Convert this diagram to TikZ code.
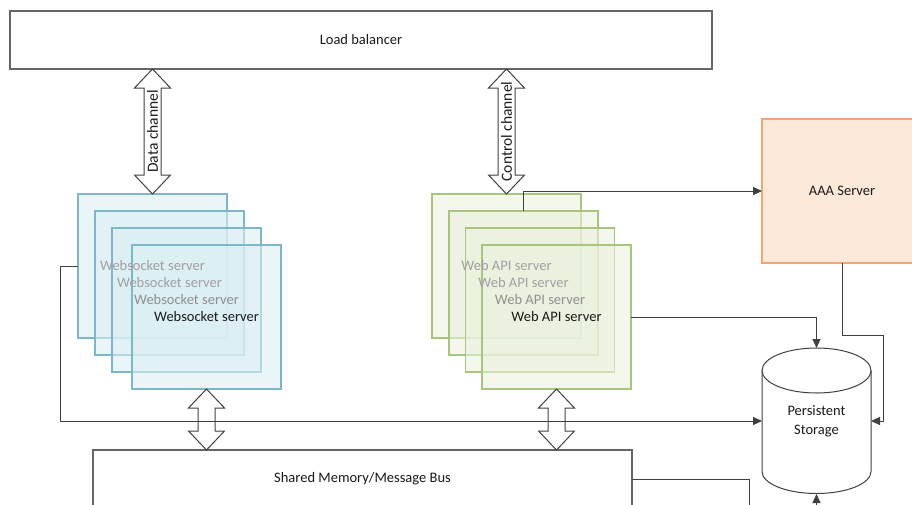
\documentclass[tikz,border=0pt]{standalone}
\usepackage{fontspec}
\setmainfont{Carlito}
\usetikzlibrary{arrows.meta,calc}
\definecolor{wsfill}{HTML}{DBEEF3}
\definecolor{wsline}{HTML}{7DB8CA}
\definecolor{apifill}{HTML}{EAF1DE}
\definecolor{apiline}{HTML}{A9C47E}
\definecolor{aaafill}{HTML}{FDE9D9}
\definecolor{aaaline}{HTML}{F5A66C}
\definecolor{boxline}{HTML}{666666}
\definecolor{connc}{HTML}{404040}
\definecolor{txt}{HTML}{1A1A1A}
\definecolor{fadetxt}{HTML}{A0A0A0}
\newcommand\dblarr[2]{%
  \draw[dbl] let \p1=#1, \p2=#2 in
    (\x1,\y1) -- (\x1+18pt,\y1-19pt) -- (\x1+8.5pt,\y1-19pt) -- (\x1+8.5pt,\y2+19pt)
    -- (\x1+18pt,\y2+19pt) -- (\x1,\y2) -- (\x1-18pt,\y2+19pt) -- (\x1-8.5pt,\y2+19pt)
    -- (\x1-8.5pt,\y1-19pt) -- (\x1-18pt,\y1-19pt) -- cycle;}
\begin{document}
\begin{tikzpicture}[x=1pt,y=-1pt,
  lbl/.style={font=\fontsize{14.5}{19}\selectfont, text=txt, align=center},
  chlbl/.style={font=\fontsize{15.5}{18}\selectfont, text=txt, rotate=90},
  plainbox/.style={draw=boxline, line width=1.6pt, fill=white, inner sep=0pt, outer sep=0pt},
  wsbox/.style={draw=wsline, fill=wsfill, fill opacity=0.58, line width=1.2pt,
    minimum width=149pt, minimum height=144pt, inner sep=0pt, outer sep=0pt},
  apibox/.style={draw=apiline, fill=apifill, fill opacity=0.58, line width=1.2pt,
    minimum width=149pt, minimum height=144pt, inner sep=0pt, outer sep=0pt},
  conn/.style={draw=connc, line width=1pt, -{Triangle[length=9pt,width=8pt]}},
  wire/.style={draw=connc, line width=1pt},
  dbl/.style={draw=connc, line width=1pt, line join=miter}]
\useasboundingbox (0,0) rectangle (912,504);
\clip (0,0) rectangle (912,504);

% Load balancer
\node[plainbox, lbl, minimum width=702pt, minimum height=58pt] (lb) at (361,40) {Load balancer};

% Websocket stack
\node[wsbox] (ws1) at (152.5,266) {};
\node[wsbox] (ws2) at (169.5,283) {};
\node[wsbox] (ws3) at (186.5,300) {};
\node[wsbox] (ws4) at (206.5,317) {};
\node[lbl, text=fadetxt] (wst1) at (ws1.center) {Websocket server};
\node[lbl, text=fadetxt] (wst2) at (ws2.center) {Websocket server};
\node[lbl, text=fadetxt!90!black] (wst3) at (ws3.center) {Websocket server};
\node[lbl] (wst4) at (ws4.center) {Websocket server};

% Web API stack
\node[apibox] (api1) at (506.5,266) {};
\node[apibox] (api2) at (523.5,283) {};
\node[apibox] (api3) at (540,300) {};
\node[apibox] (api4) at (556.5,317) {};
\node[lbl, text=fadetxt] (apit1) at (api1.center) {Web API server};
\node[lbl, text=fadetxt] (apit2) at (api2.center) {Web API server};
\node[lbl, text=fadetxt!90!black] (apit3) at (api3.center) {Web API server};
\node[lbl] (apit4) at (api4.center) {Web API server};

% AAA server
\node[draw=aaaline, fill=aaafill, line width=1.5pt, minimum width=160pt, minimum height=144pt,
  inner sep=0pt, outer sep=0pt, lbl] (aaa) at (842,191) {AAA Server};

% Shared memory bus
\node[plainbox, lbl, minimum width=539pt, minimum height=58pt] (bus) at (362.5,479) {Shared Memory/Message Bus};

% Persistent storage cylinder
\draw[draw=connc, line width=1pt, fill=white]
  (762,370.5) -- (762,471.5) arc[start angle=180, end angle=0, x radius=54.5, y radius=22]
  -- (871,370.5) arc[start angle=0, end angle=-180, x radius=54.5, y radius=22.5] -- cycle;
\draw[draw=connc, line width=1pt] (762,370.5) arc[start angle=180, end angle=0, x radius=54.5, y radius=22.5];
\node[lbl, minimum width=109pt, minimum height=146pt, inner sep=0pt, outer sep=0pt] (st) at (816.5,421) {Persistent\\Storage};

% Channel double arrows
\dblarr{(ws1.north |- lb.south)}{(ws1.north)}
\node[chlbl] (dch) at ($(ws1.north |- lb.south)!0.5!(ws1.north)$) {Data channel};
\dblarr{(api1.north |- lb.south)}{(api1.north)}
\node[chlbl] (cch) at ($(api1.north |- lb.south)!0.5!(api1.north)$) {Control channel};
\dblarr{(ws4.south)}{(ws4.south |- bus.north)}
\dblarr{(api4.south)}{(api4.south |- bus.north)}

% Connectors
\draw[conn] (api2.north) |- (aaa.west);
\draw[conn] (api4.east) -| (st.north);
\draw[conn] (aaa.south) -- ++(0,72) -| ($(st.east)+(12,0)$) -- (st.east);
\draw[conn] (ws1.west) -- ++(-18,0) |- (st.west);
\draw[wire] (bus.east) -- ++(117,0) -- ++(0,40);
\coordinate (below) at (816.5,515);
\draw[conn] (below) -- (st.south);
\end{tikzpicture}
\end{document}
